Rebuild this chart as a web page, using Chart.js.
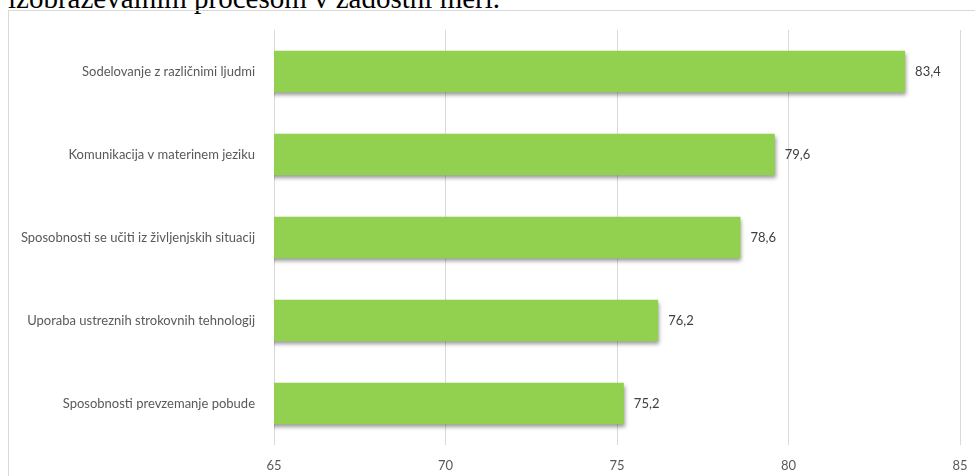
<!DOCTYPE html>
<html lang="sl">
<head>
  <meta charset="UTF-8">
  <title>Kompetence</title>
  <script src="https://cdn.jsdelivr.net/npm/chart.js"></script>
  <style>
    body { margin: 0; width: 975px; height: 476px; overflow: hidden; background: #fff; position: relative; }
    #caption { position: absolute; left: 8px; top: -16px; font-family: "Liberation Serif", "Times New Roman", serif; font-size: 29px; line-height: 29px; color: #000; white-space: nowrap; }
    #frame { position: absolute; left: 8px; top: 10px; width: 1000px; height: 500px; border: 1px solid #d9d9d9; box-sizing: border-box; }
    #wrap { position: absolute; left: 0; top: 0; width: 975px; height: 476px; }
  </style>
</head>
<body>
  <div id="caption">izobraževalnim procesom v zadostni meri.</div>
  <div id="frame"></div>
  <div id="wrap"><canvas id="barChart" width="975" height="476"></canvas></div>

  <script>
    // chart data
    const categories = [
      'Sodelovanje z različnimi ljudmi',
      'Komunikacija v materinem jeziku',
      'Sposobnosti se učiti iz življenjskih situacij',
      'Uporaba ustreznih strokovnih tehnologij',
      'Sposobnosti prevzemanje pobude'
    ];
    const values = [83.4, 79.6, 78.6, 76.2, 75.2];
    const axisTicks = [65, 70, 75, 80, 85];

    const labelFont = { family: 'Lato, "Open Sans", sans-serif', size: 13 };

    // soft drop shadow under the bars
    const barShadow = {
      id: 'barShadow',
      beforeDatasetDraw(chart) {
        const ctx = chart.ctx;
        ctx.save();
        ctx.shadowColor = 'rgba(0,0,0,0.4)';
        ctx.shadowBlur = 4;
        ctx.shadowOffsetX = 1;
        ctx.shadowOffsetY = 3;
      },
      afterDatasetDraw(chart) {
        chart.ctx.restore();
      }
    };

    // value labels at the bar ends, with decimal comma
    const valueLabels = {
      id: 'valueLabels',
      afterDatasetsDraw(chart) {
        const ctx = chart.ctx;
        const meta = chart.getDatasetMeta(0);
        ctx.save();
        ctx.font = labelFont.size + 'px ' + labelFont.family;
        ctx.fillStyle = '#404040';
        ctx.textAlign = 'left';
        ctx.textBaseline = 'middle';
        meta.data.forEach((bar, i) => {
          ctx.fillText(values[i].toFixed(1).replace('.', ','), bar.x + 10, bar.y);
        });
        ctx.restore();
      }
    };

    new Chart(document.getElementById('barChart'), {
      type: 'bar',
      data: {
        labels: categories,
        datasets: [{
          data: values,
          backgroundColor: '#92d050',
          borderWidth: 0,
          barPercentage: 0.5,
          categoryPercentage: 1
        }]
      },
      options: {
        indexAxis: 'y',
        responsive: false,
        animation: false,
        layout: { padding: { left: 0, top: 30, right: 15, bottom: 0 } },
        plugins: { legend: { display: false }, tooltip: { enabled: false } },
        scales: {
          x: {
            min: 65,
            max: 85,
            afterBuildTicks(scale) {
              scale.ticks = axisTicks.map(v => ({ value: v }));
            },
            afterFit(scale) {
              scale.height = 31;
              scale.paddingLeft = 0;
              scale.paddingRight = 0;
            },
            grid: { color: '#d9d9d9', drawTicks: false },
            border: { display: false },
            ticks: { font: labelFont, color: '#595959', padding: 13 }
          },
          y: {
            afterFit(scale) { scale.width = 274; },
            grid: { display: false },
            border: { display: false },
            ticks: { font: labelFont, color: '#595959', padding: 11 }
          }
        }
      },
      plugins: [barShadow, valueLabels]
    });
  </script>
</body>
</html>
